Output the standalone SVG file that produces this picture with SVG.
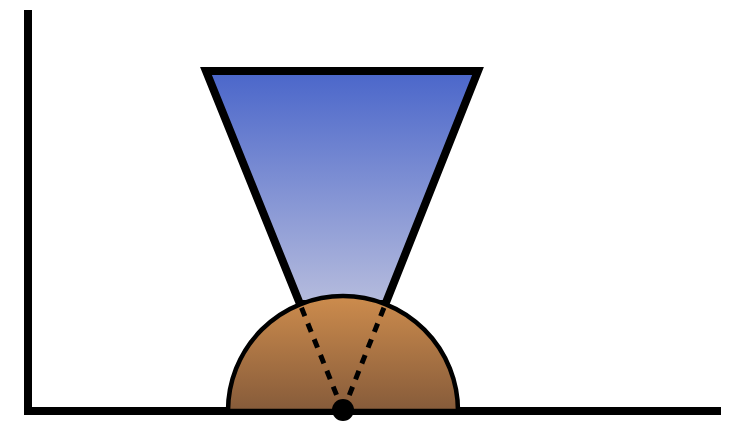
<svg xmlns="http://www.w3.org/2000/svg" width="742" height="421" viewBox="0 0 742 421">
<defs>
<linearGradient id="blue" x1="0" y1="0" x2="0" y2="1">
<stop offset="0" stop-color="#4A66CA"/>
<stop offset="1" stop-color="#B6BCDD"/>
</linearGradient>
<linearGradient id="brown" x1="0" y1="0" x2="0" y2="1">
<stop offset="0" stop-color="#CD8C4D"/>
<stop offset="1" stop-color="#865B3A"/>
</linearGradient>
<style>
.axis{stroke:#000;stroke-width:8;fill:none}
.dash{stroke:#000;stroke-width:5;stroke-dasharray:9 8;stroke-dashoffset:-4;fill:none}
</style>
</defs>
<g id="axes">
<line class="axis" x1="28" y1="10" x2="28" y2="415"/>
<line class="axis" x1="24" y1="411" x2="721" y2="411"/>
</g>
<g id="cone">
<polygon points="206,71 478,71 385.4,304 300,304" fill="url(#blue)" stroke="#000" stroke-width="8" stroke-linejoin="miter"/>
</g>
<g id="dome">
<path d="M228,411 A115,115 0 0 1 458,411 Z" fill="url(#brown)" stroke="#000" stroke-width="4.5"/>
</g>
<g id="connectors">
<line class="dash" x1="300" y1="304" x2="343" y2="411"/>
<line class="dash" x1="385.4" y1="304" x2="343" y2="411"/>
</g>
<g id="point">
<circle cx="343" cy="410" r="11" fill="#000"/>
</g>
</svg>
